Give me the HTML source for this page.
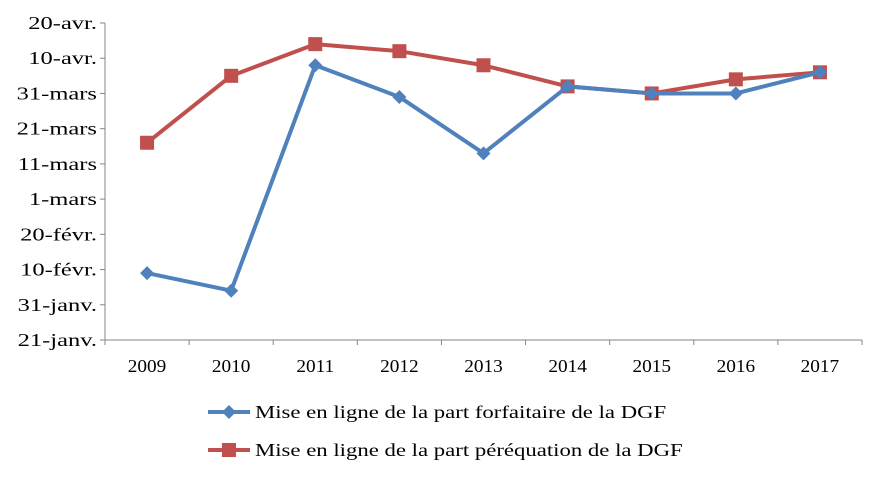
<!DOCTYPE html>
<html><head><meta charset="utf-8"><style>
html,body{margin:0;padding:0;background:#fff;}
svg{display:block;font-family:"Liberation Serif",serif;}
</style></head><body>
<svg id="chart" width="886" height="480" viewBox="0 0 886 480"></svg>
<script>
const categories=["2009","2010","2011","2012","2013","2014","2015","2016","2017"];
const yTickLabels=["21-janv.","31-janv.","10-févr.","20-févr.","1-mars","11-mars","21-mars","31-mars","10-avr.","20-avr."];
const yTickDays=[0,10,20,30,40,50,60,70,80,90];
// days after 21 January
const forfaitaire=[19,14,78,69,53,72,70,70,76];
const perequation=[56,75,84,82,78,72,70,74,76];
const NS="http://www.w3.org/2000/svg";
const svg=document.getElementById('chart');
const x0=105,x1=862,yBot=340,yTop=23;
const step=(x1-x0)/categories.length;
function xs(i){return x0+step*(i+0.5);}
function ys(d){return yBot-(d/90)*(yBot-yTop);}
function mk(tag,attrs,parent){const e=document.createElementNS(NS,tag);for(const k in attrs)e.setAttribute(k,attrs[k]);(parent||svg).appendChild(e);return e;}
function widen(t,f){const l=t.getComputedTextLength();t.setAttribute('textLength',(l*f).toFixed(1));t.setAttribute('lengthAdjust','spacingAndGlyphs');}
const axisG=mk('g',{});


mk('line',{x1:x0,y1:yTop,x2:x0,y2:yBot,stroke:'#868686','stroke-width':1},axisG);
mk('line',{x1:x0,y1:yBot,x2:x1,y2:yBot,stroke:'#868686','stroke-width':1},axisG);
yTickDays.forEach((d,i)=>{
  const y=ys(d);
  mk('line',{x1:x0-5,y1:y,x2:x0,y2:y,stroke:'#868686'},axisG);
  const t=mk('text',{x:x0-8,y:y+6,'text-anchor':'end','font-size':17.5,fill:'#000'},axisG);
  t.textContent=yTickLabels[i];
  
  
  widen(t,1.4);
});
for(let i=0;i<=categories.length;i++){
  const x=x0+step*i;
  mk('line',{x1:x,y1:yBot,x2:x,y2:yBot+5,stroke:'#868686'},axisG);
}
categories.forEach((c,i)=>{
  const t=mk('text',{x:xs(i),y:yBot+32,'text-anchor':'middle','font-size':17.5,fill:'#000'},axisG);
  t.textContent=c;
  
  
  widen(t,1.1);
});
function diamond(x,y,g,col){return mk('polygon',{points:`${x},${y-7} ${x+7},${y} ${x},${y+7} ${x-7},${y}`,fill:col},g);}
function square(x,y,g,col){return mk('rect',{x:x-7,y:y-7,width:14,height:14,fill:col},g);}
function series(vals,col,marker,name){
  const g=mk('g',{});
  
  
  mk('polyline',{points:vals.map((v,i)=>xs(i)+','+ys(v)).join(' '),fill:'none',stroke:col,'stroke-width':4,'stroke-linejoin':'round'},g);
  vals.forEach((v,i)=>{
    const m=marker(xs(i),ys(v),g,col);
    
    
  });
}
series(perequation,'#C0504D',square,'series-perequation');
series(forfaitaire,'#4F81BD',diamond,'series-forfaitaire');
function legend(y,col,marker,label,name){
  const g=mk('g',{});
  
  
  mk('line',{x1:208,y1:y,x2:250,y2:y,stroke:col,'stroke-width':4},g);
  marker(229,y,g,col);
  const t=mk('text',{x:255,y:y+6,'font-size':17.5,fill:'#000'},g);
  t.textContent=label;
  widen(t,1.3);
}
legend(412,'#4F81BD',diamond,'Mise en ligne de la part forfaitaire de la DGF','legend-entry-forfaitaire');
legend(450,'#C0504D',square,'Mise en ligne de la part péréquation de la DGF','legend-entry-perequation');
</script>
</body></html>
